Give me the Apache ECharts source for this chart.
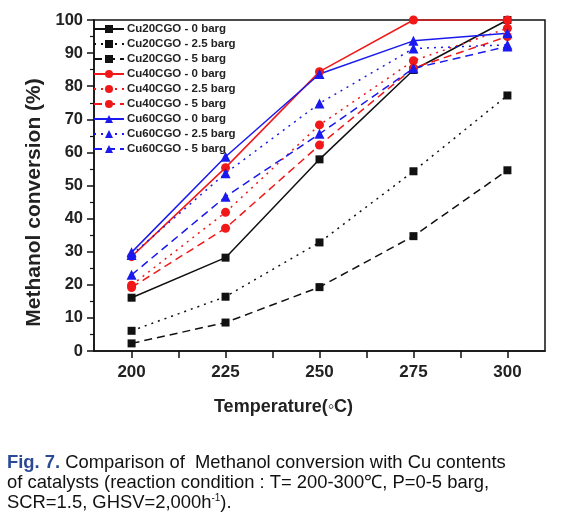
<!DOCTYPE html>
<html><head><meta charset="utf-8">
<script src="https://cdn.jsdelivr.net/npm/echarts@6/dist/echarts.min.js"></script>
<style>html,body{margin:0;padding:0;background:#fff;}#c{width:583px;height:529px;}</style>
</head><body><div id="c"></div>
<script>
const temperatures = [200, 225, 250, 275, 300];
const xTickLabels = [200, 225, 250, 275, 300];
const xTicks = [200, 212.5, 225, 237.5, 250, 262.5, 275, 287.5, 300];
const cu20_0 = [16.1, 28.2, 57.9, 84.9, 100];
const cu20_25 = [6.1, 16.4, 32.8, 54.3, 77.2];
const cu20_5 = [2.3, 8.6, 19.3, 34.7, 54.6];
const cu40_0 = [28.5, 55.4, 84.4, 100, 100];
const cu40_25 = [19.9, 41.9, 68.3, 87.7, 97.5];
const cu40_5 = [19.2, 37.1, 62.2, 85.5, 95.0];
const cu60_0 = [29.8, 58.7, 83.7, 93.7, 96.0];
const cu60_25 = [29.0, 53.7, 74.8, 91.4, 92.5];
const cu60_5 = [23.0, 46.6, 65.6, 85.4, 92.0];
const seriesNames = ['Cu20CGO - 0 barg','Cu20CGO - 2.5 barg','Cu20CGO - 5 barg','Cu40CGO - 0 barg','Cu40CGO - 2.5 barg','Cu40CGO - 5 barg','Cu60CGO - 0 barg','Cu60CGO - 2.5 barg','Cu60CGO - 5 barg'];
const seriesValues = [cu20_0, cu20_25, cu20_5, cu40_0, cu40_25, cu40_5, cu60_0, cu60_25, cu60_5];

const colors = ['#111111','#111111','#111111','#f01818','#f01818','#f01818','#1a1aee','#1a1aee','#1a1aee'];
const symbols = ['rect','rect','rect','circle','circle','circle','triangle','triangle','triangle'];
const symSizes = [8,8,8,9,9,9,10,10,10];
const dashes = ['solid',[2,5],[8,5],'solid',[2,5],[8,5],'solid',[2,5],[8,5]];

const chart = echarts.init(document.getElementById('c'), null, {renderer:'canvas'});
const font = 'Liberation Sans, Arial, sans-serif';
const series = seriesNames.map((n,i)=>({
  name:n, type:'line',
  data: temperatures.map((t,j)=>[t, seriesValues[i][j]]),
  symbol: symbols[i], symbolSize: symSizes[i],
  itemStyle:{color:colors[i]},
  lineStyle:{color:colors[i], width:1.5, type:dashes[i]},
  animation:false
}));
chart.setOption({
  animation:false,
  grid:{left:94, right:38, top:20, bottom:178, show:true, borderColor:'#111', borderWidth:1.5, backgroundColor:'transparent'},
  legend:{
    orient:'vertical', left:93, top:23, padding:0, itemWidth:30, itemHeight:10, itemGap:3,
    textStyle:{fontFamily:font, fontWeight:'bold', fontSize:11.5, color:'#222', padding:[0,0,0,-2]},
    data: seriesNames
  },
  xAxis:{
    type:'value', min:190, max:310,
    name:'Temperature(◦C)', nameLocation:'middle', nameGap:47,
    nameTextStyle:{fontFamily:font, fontWeight:'bold', fontSize:18, color:'#222', padding:[0,72,0,0]},
    axisLine:{show:true, lineStyle:{color:'#111', width:1.5}},
    axisTick:{show:true, customValues:xTicks, length:7, lineStyle:{color:'#111', width:1.5}},
    axisLabel:{customValues:xTickLabels, fontFamily:font, fontWeight:'bold', fontSize:17, color:'#222', margin:13},
    splitLine:{show:false}
  },
  yAxis:{
    type:'value', min:0, max:100, interval:10,
    name:'Methanol conversion (%)', nameLocation:'middle', nameGap:48,
    nameTextStyle:{fontFamily:font, fontWeight:'bold', fontSize:21, color:'#222', padding:[0,34,0,0]},
    axisLine:{show:true, lineStyle:{color:'#111', width:1.5}},
    axisTick:{show:true, length:7, lineStyle:{color:'#111', width:1.5}},
    minorTick:{show:true, splitNumber:2, length:4, lineStyle:{color:'#111', width:1.2}},
    axisLabel:{fontFamily:font, fontWeight:'bold', fontSize:16.5, color:'#222', margin:11},
    splitLine:{show:false}
  },
  graphic:[{
    type:'text', left:7, top:453,
    style:{
      text:'{b|Fig. 7.} Comparison of  Methanol conversion with Cu contents\nof catalysts (reaction condition : T= 200-300℃, P=0-5 barg,\nSCR=1.5, GHSV=2,000h{s|-1}).',
      font:'18.4px ' + font, fill:'#111', lineHeight:20,
      rich:{
        b:{fontFamily:font, fontSize:18.4, fontWeight:'bold', fill:'#2b4a96', color:'#2b4a96', lineHeight:20},
        s:{fontFamily:font, fontSize:10, fill:'#111', color:'#111', padding:[0,0,9,0], lineHeight:20}
      }
    }
  }],
  series: series
});
</script></body></html>
